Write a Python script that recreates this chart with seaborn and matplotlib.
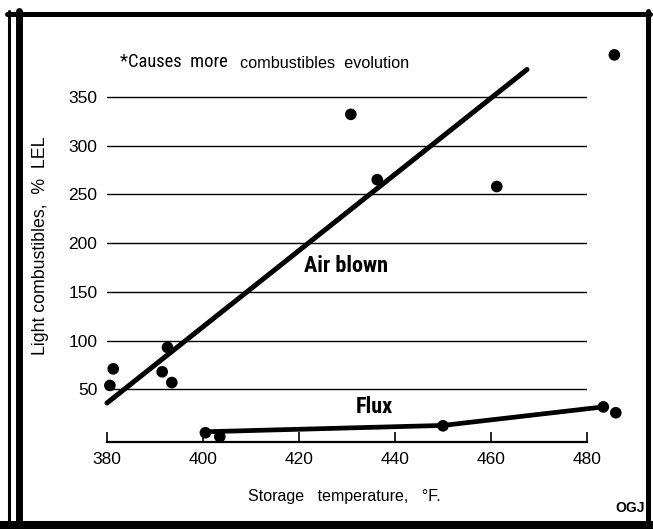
import matplotlib
matplotlib.use("Agg")
import numpy as np
import pandas as pd
import seaborn as sns
import matplotlib.pyplot as plt
from matplotlib.lines import Line2D

# values
air_temp = [380.6, 381.3, 391.5, 392.6, 393.5, 430.8, 436.3, 461.2, 485.7]
air_lel = [54, 71, 68, 93, 57, 332, 265, 258, 393]
air_fit_temp = [380, 467.5]
air_fit_lel = [36, 378]
flux_temp = [400.5, 403.5, 450, 483.4, 486]
flux_lel = [5.5, 1.5, 12.6, 32, 26]
flux_line_temp = [400.5, 450, 483.4]
flux_line_lel = [6.5, 13, 32]
x_ticks = [380, 400, 420, 440, 460, 480]
y_ticks = [50, 100, 150, 200, 250, 300, 350]

sns.set_theme(style="white")
plt.rcParams["font.family"] = ["Liberation Sans", "DejaVu Sans"]
for k in ["text.color", "axes.labelcolor", "xtick.color", "ytick.color"]:
    plt.rcParams[k] = "black"
narrow = ["Liberation Sans Narrow", "DejaVu Sans Condensed", "Roboto Condensed",
          "Liberation Sans"]

W, H = 653, 529
fig = plt.figure(figsize=(W / 100, H / 100), dpi=100)
ax = fig.add_axes([107 / W, 87 / H, 480 / W, 392 / H])
ax.set_xlim(380, 480)
ax.set_ylim(-4, 398)

df_air = pd.DataFrame({"temp": air_temp, "lel": air_lel})
df_flux = pd.DataFrame({"temp": flux_temp, "lel": flux_lel})

sns.lineplot(x=air_fit_temp, y=air_fit_lel, ax=ax, color="black", lw=3.6,
             clip_on=False)
sns.lineplot(x=flux_line_temp, y=flux_line_lel, ax=ax, color="black", lw=3.4,
             clip_on=False)
sns.scatterplot(data=df_air, x="temp", y="lel", ax=ax, color="black",
                s=70, edgecolor="none", clip_on=False, zorder=5)
sns.scatterplot(data=df_flux, x="temp", y="lel", ax=ax, color="black",
                s=70, edgecolor="none", clip_on=False, zorder=5)

ax.set_xticks(x_ticks)
ax.set_yticks(y_ticks)
ax.yaxis.grid(True, color="black", lw=1)
ax.xaxis.grid(False)
ax.set_axisbelow(True)
for s in ["left", "top", "right"]:
    ax.spines[s].set_visible(False)
ax.spines["bottom"].set_color("black")
ax.spines["bottom"].set_linewidth(1.6)
ax.tick_params(axis="x", direction="in", length=7, width=1.2, color="black",
               labelsize=12.5, pad=7, bottom=True)
ax.tick_params(axis="y", length=0, labelsize=12.5, pad=7)
ax.set_xlabel("")
ax.set_ylabel("")

ax.text(429.7, 176, "Air blown", ha="center", va="center", fontsize=16,
        fontweight="bold", family=narrow, fontstretch="condensed")
ax.text(435.6, 32, "Flux", ha="center", va="center", fontsize=16,
        fontweight="bold", family=narrow, fontstretch="condensed")

fig.text(41 / W, 1 - 246 / H, "Light combustibles,  %  LEL", rotation=90,
         ha="center", va="center", fontsize=12.8)
fig.text(344 / W, 1 - 497 / H, "Storage   temperature,   °F.",
         ha="center", va="center", fontsize=11.5)
fig.text(120 / W, 1 - 62 / H, "*Causes  more", ha="left", va="center",
         fontsize=13.3, family=narrow, fontstretch="condensed")
fig.text(240 / W, 1 - 63 / H, "combustibles  evolution", ha="left",
         va="center", fontsize=11.7)
fig.text(630 / W, 1 - 508 / H, "OGJ", ha="center", va="center",
         fontsize=10, fontweight="heavy")

# scanned frame around the figure
fig.add_artist(Line2D([7 / W, 650 / W], [1 - 13.5 / H] * 2, lw=3.6, color="black"))
fig.add_artist(Line2D([647.5 / W] * 2, [0, 1 - 11 / H], lw=3.6, color="black"))
fig.add_artist(Line2D([0, 1], [1 - 525 / H] * 2, lw=5.8, color="black"))
fig.add_artist(Line2D([18.5 / W] * 2, [0, 1 - 11 / H], lw=5, color="black"))
fig.add_artist(Line2D([9 / W] * 2, [0, 1 - 11 / H], lw=2.2, color="black"))

fig.savefig("out.png", dpi=100)
